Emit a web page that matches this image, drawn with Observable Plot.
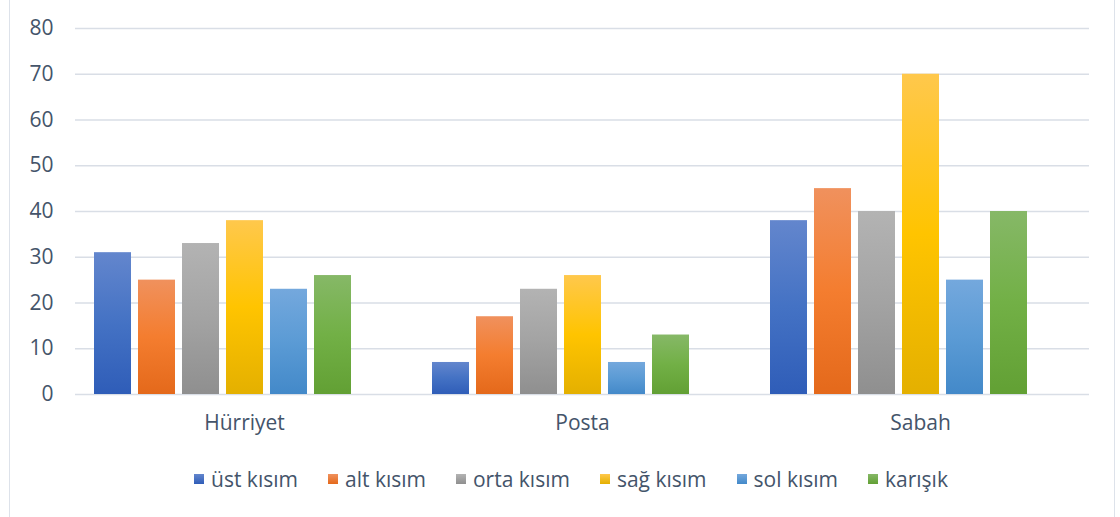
<!DOCTYPE html>
<html><head><meta charset="utf-8">
<script src="https://cdn.jsdelivr.net/npm/d3@7"></script>
<script src="https://cdn.jsdelivr.net/npm/@observablehq/plot@0.6"></script>
<style>
body{margin:0;background:#fff;width:1120px;height:517px;overflow:hidden;position:relative;font-family:"Open Sans",sans-serif;}
#frame{position:absolute;left:9px;top:-6px;width:1106px;height:530px;border:1.5px solid #dde2ea;border-radius:6px;box-sizing:border-box;}
#chart{position:absolute;left:0;top:0;}
#legend{position:absolute;left:0;top:466px;width:1142px;height:26px;display:flex;justify-content:center;align-items:center;color:#44546a;font-size:21px;}
.item{display:flex;align-items:center;margin:0 15px;}
.sw{width:10px;height:10px;margin-right:7px;}
</style>
</head><body>
<div id="frame"></div>
<div id="chart"></div>
<div id="legend"></div>
<script>
const categories = ["Hürriyet", "Posta", "Sabah"];
const seriesNames = ["üst kısım", "alt kısım", "orta kısım", "sağ kısım", "sol kısım", "karışık"];
const ustKisim   = [31, 7, 38];
const altKisim   = [25, 17, 45];
const ortaKisim  = [33, 23, 40];
const sagKisim   = [38, 26, 70];
const solKisim   = [23, 7, 25];
const karisik    = [26, 13, 40];
const yTicks = [0, 10, 20, 30, 40, 50, 60, 70, 80];
const gradStops = [
  ["#6386cd", "#4472c4", "#2f5db8"],
  ["#f0915d", "#f47d2f", "#e4691b"],
  ["#b3b3b3", "#a3a3a3", "#8f8f8f"],
  ["#ffc84c", "#ffc400", "#e4b000"],
  ["#74a8dd", "#5b9bd5", "#4389c9"],
  ["#86b867", "#72b046", "#62a034"]
];

const seriesValues = [ustKisim, altKisim, ortaKisim, sagKisim, solKisim, karisik];
const data = [];
categories.forEach((c, i) => seriesNames.forEach((s, j) => data.push({category: c, series: s, value: seriesValues[j][i]})));

const chart = Plot.plot({
  width: 1120, height: 440,
  marginTop: 28, marginBottom: 46, marginLeft: 74, marginRight: 31,
  style: {fontSize: "21px", fontFamily: "'Open Sans', sans-serif", color: "#44546a", background: "transparent"},
  fx: {domain: categories, padding: 0, label: null, axis: "bottom", tickSize: 0, tickPadding: 21},
  x: {domain: [...seriesNames, "_"], axis: null, paddingInner: 0.167, paddingOuter: 0.39},
  y: {domain: [0, 80], ticks: yTicks, tickSize: 0, tickPadding: 22, label: null},
  marks: [
    Plot.gridY(yTicks, {stroke: "#d9dee6", strokeOpacity: 1, strokeWidth: 1.3}),
    ...seriesNames.map((s, j) => Plot.barY(data.filter(d => d.series === s), {
      fx: "category", x: "series", y: "value", fill: `url(#grad${j})`
    }))
  ]
});

const svg = d3.select(chart);
svg.selectAll("text").attr("font-size", "21px");
const defs = svg.insert("defs", ":first-child");
gradStops.forEach((st, j) => {
  const g = defs.append("linearGradient").attr("id", "grad" + j).attr("x1", 0).attr("y1", 0).attr("x2", 0).attr("y2", 1);
  g.append("stop").attr("offset", "0%").attr("stop-color", st[0]);
  g.append("stop").attr("offset", "50%").attr("stop-color", st[1]);
  g.append("stop").attr("offset", "100%").attr("stop-color", st[2]);
});
document.getElementById("chart").appendChild(chart);

const legend = d3.select("#legend");
seriesNames.forEach((s, j) => {
  const it = legend.append("div").attr("class", "item");
  it.append("div").attr("class", "sw").style("background", `linear-gradient(${gradStops[j][0]}, ${gradStops[j][2]})`);
  it.append("span").text(s);
});
</script>
</body></html>
